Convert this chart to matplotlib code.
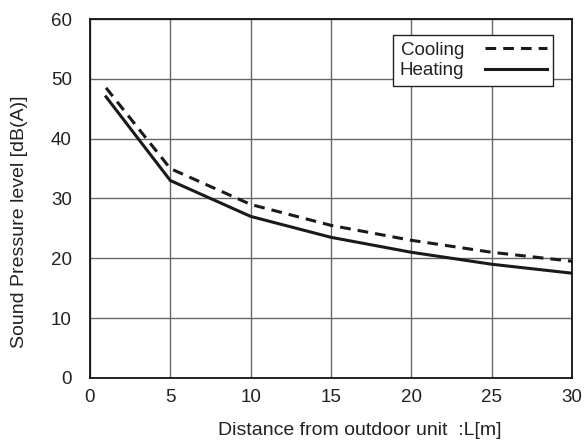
import matplotlib.pyplot as plt

plt.rcParams['font.family'] = ['Liberation Sans', 'DejaVu Sans']

distance = [1, 5, 10, 15, 20, 25, 30]
cooling = [48.5, 35, 29, 25.5, 23, 21, 19.5]
heating = [47, 33, 27, 23.5, 21, 19, 17.5]

fig = plt.figure(figsize=(5.88, 4.43), dpi=100)
ax = fig.add_axes([0.153, 0.147, 0.820, 0.810])

ax.plot(distance, cooling, color='#1a1a1a', lw=2.2, linestyle=(0, (3.5, 2.3)), label='Cooling')
ax.plot(distance, heating, color='#1a1a1a', lw=2.2, label='Heating')

ax.set_xlim(0, 30)
ax.set_ylim(0, 60)
ax.set_xticks(range(0, 31, 5))
ax.set_yticks(range(0, 61, 10))
ax.grid(True, color='#666666', lw=1.0)
ax.tick_params(length=0, labelsize=13.5, pad=13, labelcolor='#222222')
ax.tick_params(axis='x', pad=8)
for s in ax.spines.values():
    s.set_linewidth(1.3)
    s.set_color('#111111')

ax.set_xlabel('Distance from outdoor unit  :L[m]', fontsize=14, color='#222222')
ax.set_ylabel('Sound Pressure level [dB(A)]', fontsize=14, color='#222222')
ax.xaxis.set_label_coords(0.56, -0.122)
ax.yaxis.set_label_coords(-0.128, 0.435)

leg = ax.legend(loc='upper right', bbox_to_anchor=(0.96, 0.955), fontsize=13.5, fancybox=False,
                framealpha=1, edgecolor='#222222', markerfirst=False, handlelength=3.3,
                borderpad=0.33, labelspacing=0.2, handletextpad=1.1, borderaxespad=0)
leg.get_frame().set_linewidth(1.0)
for t in leg.get_texts():
    t.set_color('#222222')

fig.savefig('out.png', dpi=100)
